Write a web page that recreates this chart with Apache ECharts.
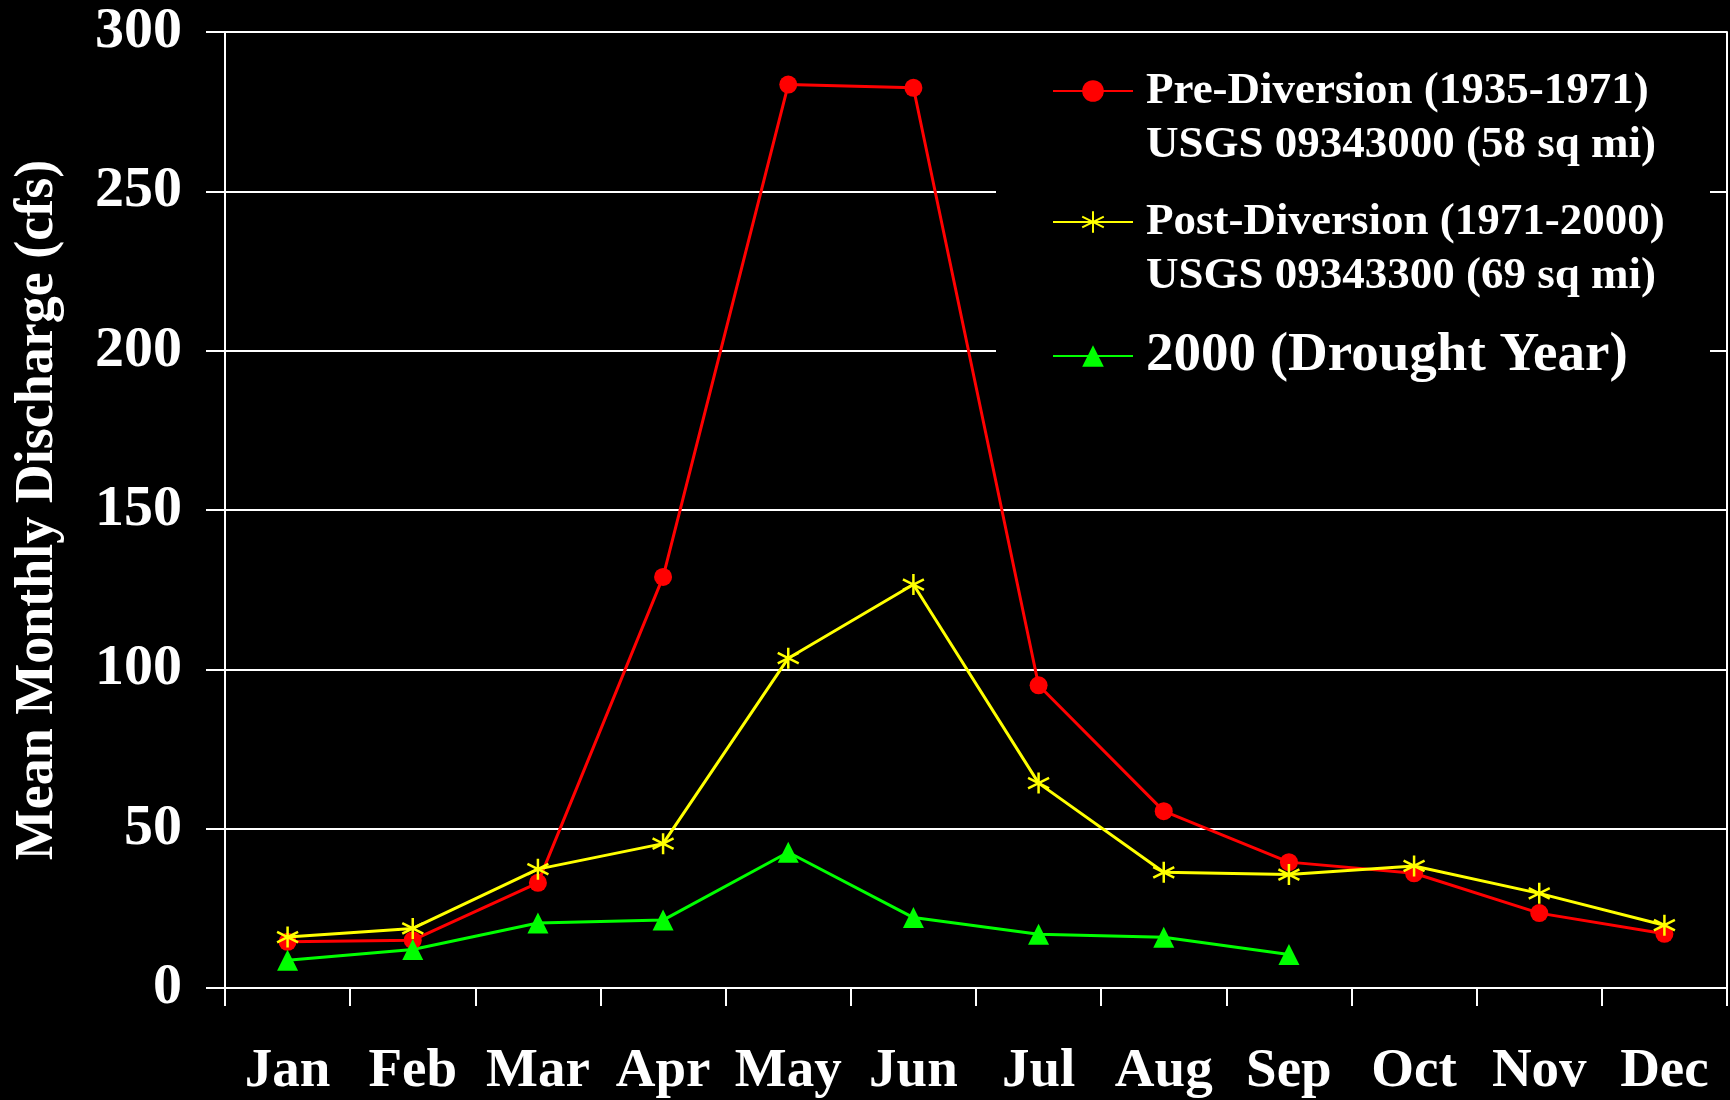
<!DOCTYPE html>
<html><head><meta charset="utf-8">
<script src="https://cdn.jsdelivr.net/npm/echarts@6/dist/echarts.min.js"></script>
<style>html,body{margin:0;padding:0;background:#000}#c{width:1730px;height:1100px}</style>
</head><body><div id="c"></div><script>
const months = ['Jan','Feb','Mar','Apr','May','Jun','Jul','Aug','Sep','Oct','Nov','Dec'];
const preDiversion = [14.5, 15, 33, 129, 283.5, 282.5, 95, 55.5, 39.5, 36, 23.5, 17];
const postDiversion = [16, 18.7, 37.3, 45.3, 103.5, 126.6, 64.3, 36.3, 35.6, 38.3, 29.7, 19.7];
const drought2000 = [8.7, 12.1, 20.4, 21.3, 42.6, 22.1, 16.9, 15.9, 10.5, null, null, null];
const seriesNames = ['Pre-Diversion', 'Post-Diversion', '2000'];
const legendLines = [
  ['Pre-Diversion (1935-1971)', 'USGS 09343000 (58 sq mi)'],
  ['Post-Diversion (1971-2000)', 'USGS 09343300 (69 sq mi)'],
  ['2000 (Drought Year)']
];
const yMin = 0, yMax = 300, yStep = 50;
const yTitle = 'Mean Monthly Discharge (cfs)';

const FONT = "'Liberation Serif','Times New Roman',serif";
const asterisk = 'path://M10,0L10,20M1.34,5L18.66,15M1.34,15L18.66,5';

function legendFor(idx, top, size, lh) {
  return {
    data: [seriesNames[idx]],
    left: 1052, top: top, padding: 0,
    itemWidth: 80, itemHeight: 27,
    selectedMode: false,
    formatter: () => (legendLines[idx].length > 1 ? ' \n' : '') + legendLines[idx].join('\n'),
    textStyle: { color: '#fff', fontFamily: FONT, fontWeight: 'bold', fontSize: size, lineHeight: lh, padding: [0, 0, 0, 8] }
  };
}

const chart = echarts.init(document.getElementById('c'));
chart.setOption({
  backgroundColor: '#000',
  animation: false,
  grid: { left: 225, right: 3, top: 32, bottom: 112, containLabel: false },
  graphic: [{ type: 'rect', shape: { x: 996, y: 36, width: 714, height: 364 }, style: { fill: '#000' }, z: 1 }],
  legend: [
    legendFor(0, 10, 45, 54),
    legendFor(1, 141, 45, 54),
    legendFor(2, 326, 55, 60)
  ],
  xAxis: {
    type: 'category', data: months, boundaryGap: true,
    axisLine: { lineStyle: { color: '#fff', width: 2 } },
    axisTick: { show: true, length: 18, lineStyle: { color: '#fff', width: 2 } },
    axisLabel: { color: '#fff', fontFamily: FONT, fontWeight: 'bold', fontSize: 55, margin: 56, interval: 0 },
    splitLine: { show: false }
  },
  yAxis: [{
    type: 'value', min: yMin, max: yMax, interval: yStep,
    name: yTitle, nameLocation: 'middle', nameGap: 160, nameRotate: 90,
    nameTextStyle: { color: '#fff', fontFamily: FONT, fontWeight: 'bold', fontSize: 54 },
    axisLine: { show: true, lineStyle: { color: '#fff', width: 2 } },
    axisTick: { show: true, length: 19, lineStyle: { color: '#fff', width: 2 } },
    axisLabel: { color: '#fff', fontFamily: FONT, fontWeight: 'bold', fontSize: 58, margin: 43 },
    splitLine: { show: true, lineStyle: { color: '#fff', width: 2 } }
  }, {
    type: 'value', min: yMin, max: yMax, interval: yStep, position: 'right',
    axisLine: { show: true, lineStyle: { color: '#fff', width: 2 } },
    axisTick: { show: false }, axisLabel: { show: false }, splitLine: { show: false }
  }],
  series: [
    { name: seriesNames[0], type: 'line', data: preDiversion, symbol: 'circle', symbolSize: 18,
      lineStyle: { color: '#ff0000', width: 3 }, itemStyle: { color: '#ff0000' }, z: 3 },
    { name: seriesNames[1], type: 'line', data: postDiversion, symbol: asterisk, symbolSize: 21,
      lineStyle: { color: '#ffff00', width: 3 }, itemStyle: { color: '#ffff00', borderColor: '#ffff00', borderWidth: 2.5 }, z: 4 },
    { name: seriesNames[2], type: 'line', data: drought2000, symbol: 'triangle', symbolSize: 21,
      lineStyle: { color: '#00ff00', width: 3 }, itemStyle: { color: '#00ff00' }, z: 3 }
  ]
});
</script></body></html>
